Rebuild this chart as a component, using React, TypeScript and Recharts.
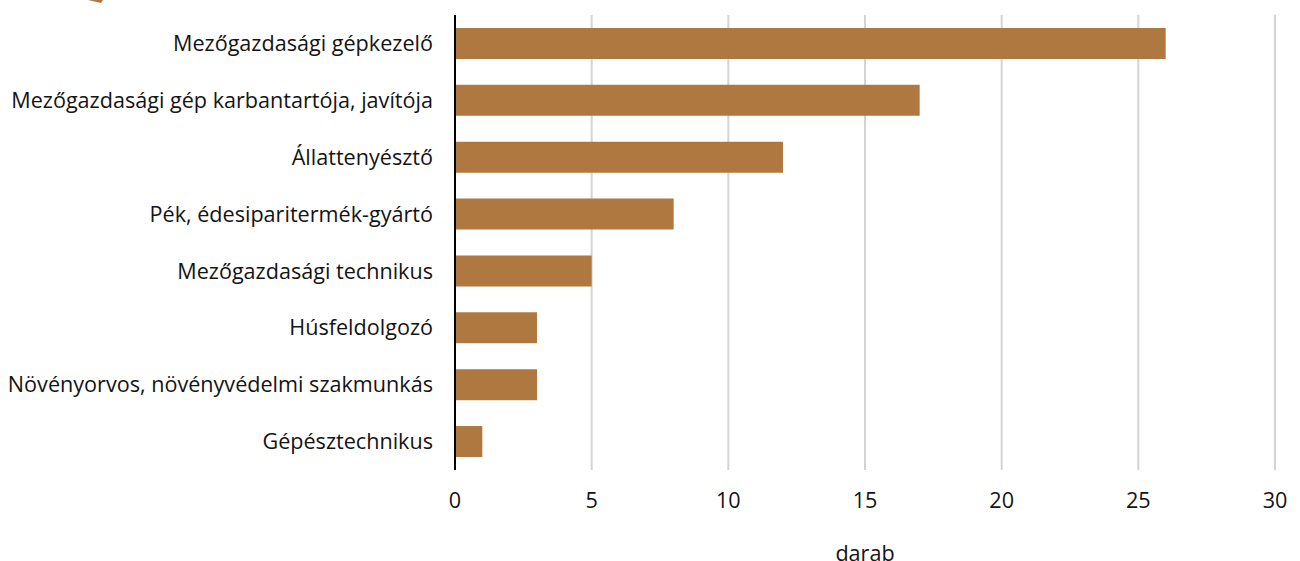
import React from "react";
import { BarChart, Bar, XAxis, YAxis, CartesianGrid, ReferenceLine } from "recharts";

const categories = [
  "Mezőgazdasági gépkezelő",
  "Mezőgazdasági gép karbantartója, javítója",
  "Állattenyésztő",
  "Pék, édesiparitermék-gyártó",
  "Mezőgazdasági technikus",
  "Húsfeldolgozó",
  "Növényorvos, növényvédelmi szakmunkás",
  "Gépésztechnikus",
];
const counts = [26, 17, 12, 8, 5, 3, 3, 1];
const xTicks = [0, 5, 10, 15, 20, 25, 30];

const data = categories.map((name, i) => ({ name, count: counts[i] }));
const font = "'Open Sans', sans-serif";
const tickStyle = { fontFamily: font, fontSize: 21.6, fill: "#141414" };

export default function App() {
  return (
    <div style={{ position: "absolute", left: 0, top: 0, width: 1300, height: 561 }}>
      <BarChart
        width={1300}
        height={561}
        layout="vertical"
        data={data}
        barCategoryGap="22.7%"
        margin={{ top: 15, right: 25, left: 0, bottom: 0 }}
      >
        <CartesianGrid horizontal={false} stroke="#d4d4d4" strokeWidth={2} />
        <XAxis
          type="number"
          domain={[0, 30]}
          ticks={xTicks}
          height={91}
          axisLine={false}
          tickLine={false}
          tick={tickStyle}
          tickMargin={17}
          label={{
            value: "darab",
            position: "insideBottom",
            offset: 0,
            style: { fontFamily: font, fontSize: 21.6, fill: "#141414" },
          }}
        />
        <YAxis
          type="category"
          dataKey="name"
          width={455}
          interval={0}
          axisLine={false}
          tickLine={false}
          tick={tickStyle}
          tickMargin={16}
        />
        <Bar dataKey="count" fill="#ae7840" isAnimationActive={false} />
        <ReferenceLine x={0} stroke="#000000" strokeWidth={2} />
      </BarChart>
      {/* cropped corner of a decoration at the top edge of the picture */}
      <svg width={20} height={4} style={{ position: "absolute", left: 88, top: 0 }}>
        <polygon points="0,0 15,0 13,3" fill="#ae7840" />
      </svg>
    </div>
  );
}
